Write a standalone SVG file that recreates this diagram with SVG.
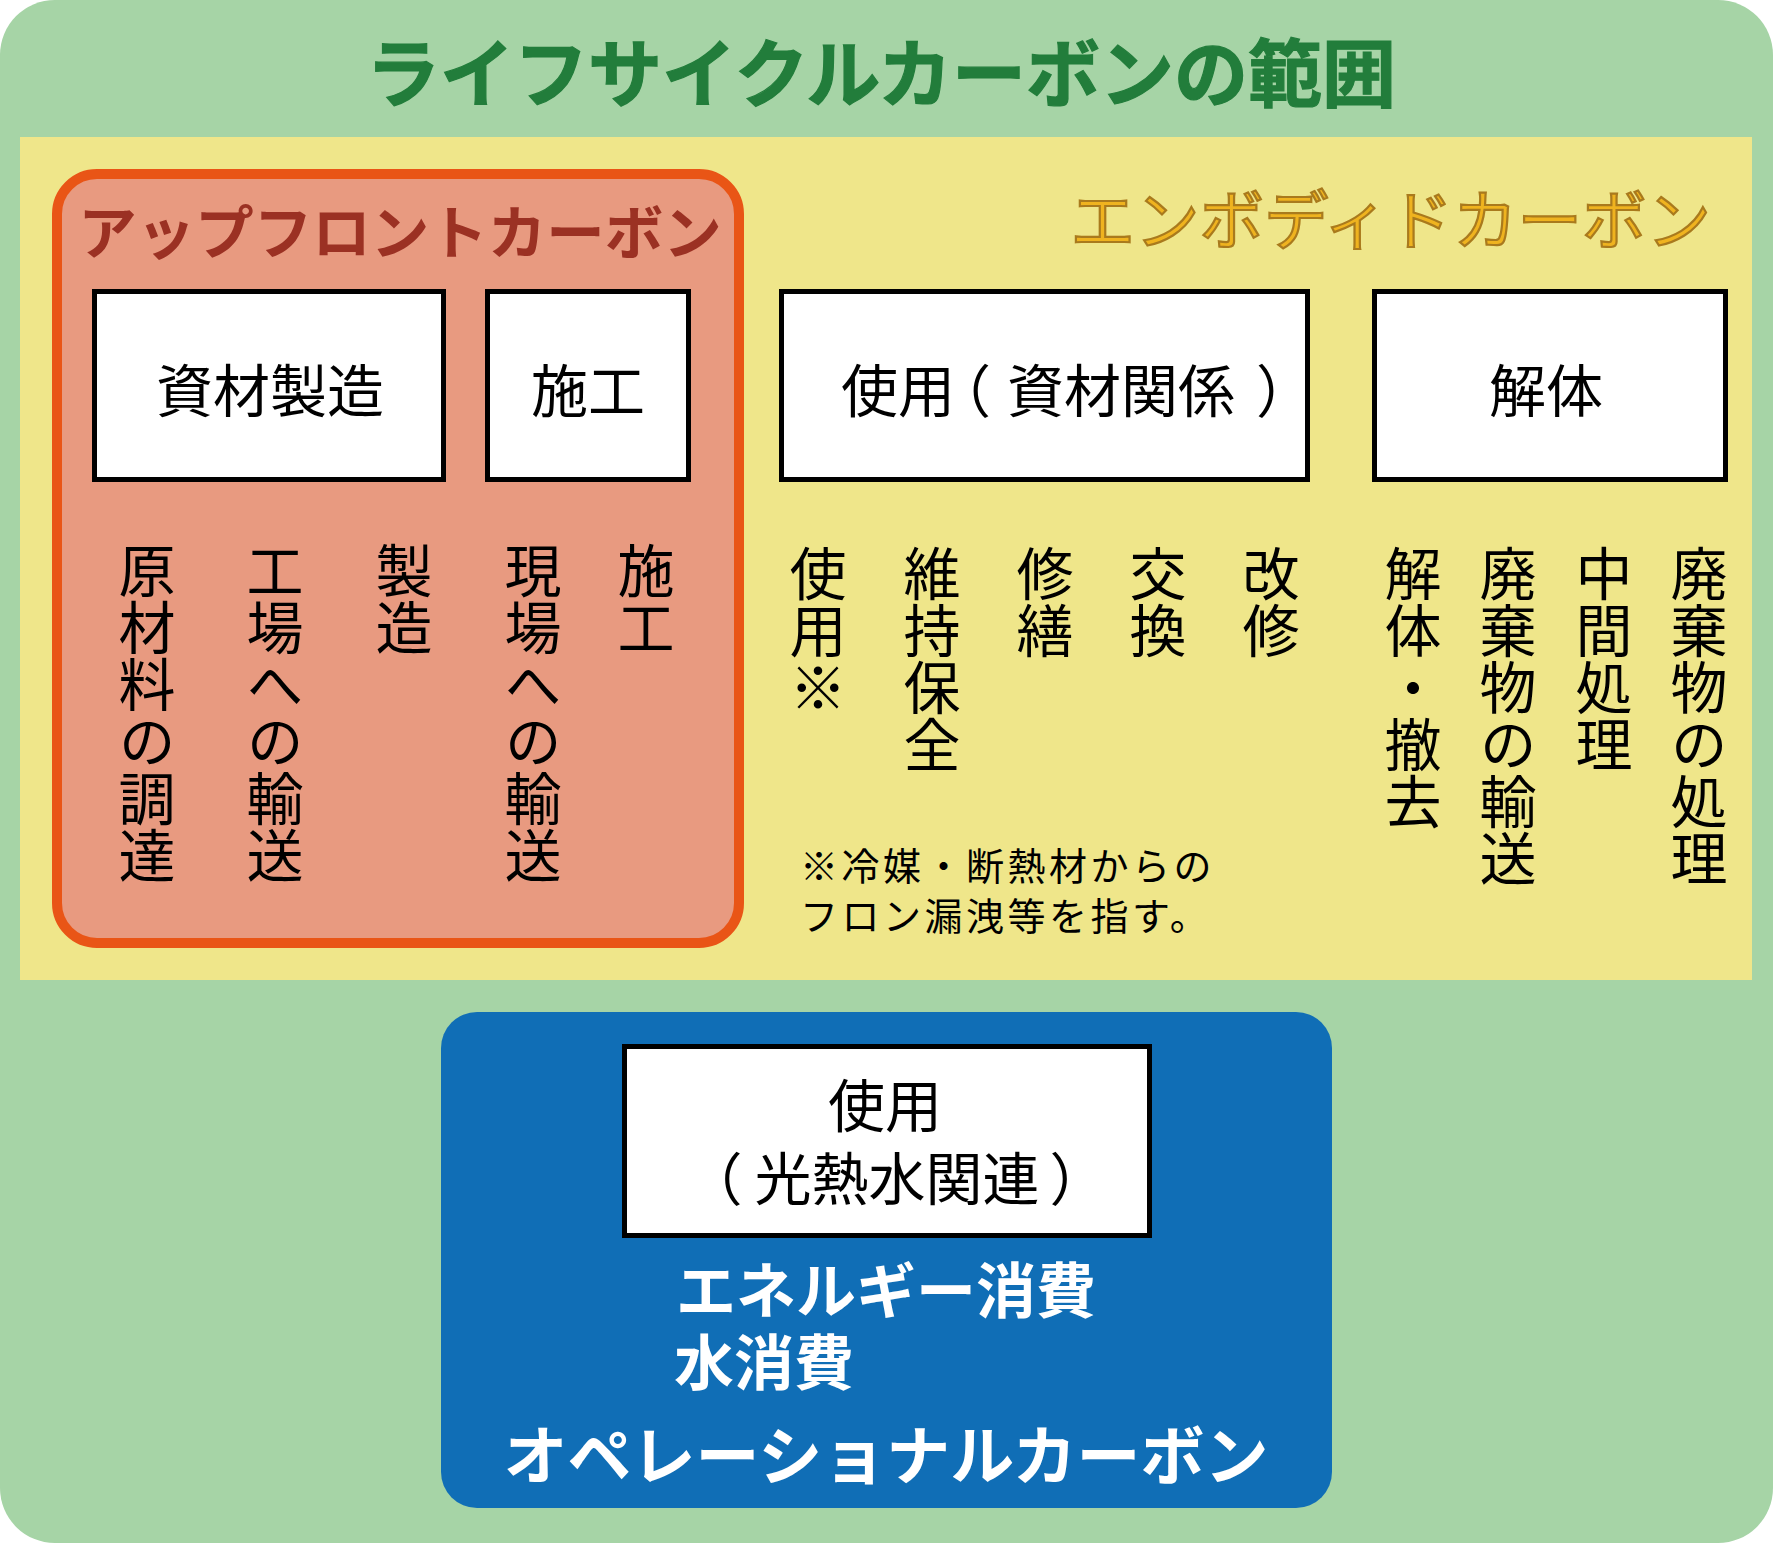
<svg xmlns="http://www.w3.org/2000/svg" width="1773" height="1543" viewBox="0 0 1773 1543">
<style>
text { font-family: "Noto Sans CJK JP", "Noto Sans", sans-serif; }
.box { fill: #ffffff; stroke: #000000; stroke-width: 5; }
.boxtxt { font-size: 57px; fill: #000000; }
.vt { font-size: 57px; fill: #000000; writing-mode: vertical-rl; text-orientation: upright; }
.title { font-size: 74px; font-weight: 700; fill: #227d3b; stroke: #227d3b; stroke-width: 1.2; }
.upfront { font-size: 58.5px; font-weight: 700; fill: #9b3123; }
.embodied { font-size: 64.5px; fill: #efb31f; stroke: #a97a1d; stroke-width: 2.2; }
.note { font-size: 38px; fill: #000000; letter-spacing: 3.5px; }
.white { fill: #ffffff; font-weight: 700; }
</style>
<g id="background">
<rect x="0" y="0" width="1773" height="1543" rx="55" ry="55" fill="#a6d4a6"/>
<text class="title" x="881" y="101" text-anchor="middle">ライフサイクルカーボンの範囲</text>
</g>
<g id="embodied-carbon">
<rect x="20" y="137" width="1732" height="843" fill="#efe68a"/>
<text class="embodied" x="1711" y="244" text-anchor="end">エンボディドカーボン</text>
</g>
<g id="upfront-carbon">
<rect x="57" y="174" width="682" height="769" rx="40" ry="40" fill="#e89a80" stroke="#e95516" stroke-width="10"/>
<text class="upfront" x="400" y="254" text-anchor="middle">アップフロントカーボン</text>
</g>
<g id="node-material">
<rect class="box" x="94.5" y="291.5" width="349" height="188"/>
<text class="boxtxt" x="270" y="412" text-anchor="middle">資材製造</text>
</g>
<g id="node-construction">
<rect class="box" x="487.5" y="291.5" width="201" height="188"/>
<text class="boxtxt" x="588" y="412" text-anchor="middle">施工</text>
</g>
<g id="node-use-material">
<rect class="box" x="781.5" y="291.5" width="526" height="188"/>
<text class="boxtxt" x="841" y="412">使用<tspan dx="-21">（</tspan><tspan dx="16">資材関係</tspan><tspan dx="21">）</tspan></text>
</g>
<g id="node-demolition">
<rect class="box" x="1374.5" y="291.5" width="351" height="188"/>
<text class="boxtxt" x="1546" y="412" text-anchor="middle">解体</text>
</g>
<g id="upfront-items">
<text class="vt" x="147" y="542">原材料の調達</text>
<text class="vt" x="275" y="542">工場への輸送</text>
<text class="vt" x="404" y="542">製造</text>
<text class="vt" x="533" y="542">現場への輸送</text>
<text class="vt" x="646" y="542">施工</text>
</g>
<g id="embodied-items">
<text class="vt" x="818" y="545">使用※</text>
<text class="vt" x="932" y="545">維持保全</text>
<text class="vt" x="1045" y="545">修繕</text>
<text class="vt" x="1158" y="545">交換</text>
<text class="vt" x="1271" y="545">改修</text>
<text class="vt" x="1413" y="545">解体・撤去</text>
<text class="vt" x="1508" y="545">廃棄物の輸送</text>
<text class="vt" x="1604" y="545">中間処理</text>
<text class="vt" x="1699" y="545">廃棄物の処理</text>
</g>
<g id="footnote">
<text class="note" x="800" y="880">※冷媒・断熱材からの</text>
<text class="note" x="800" y="930">フロン漏洩等を指す。</text>
</g>
<g id="operational-carbon">
<rect x="441" y="1012" width="891" height="496" rx="36" ry="36" fill="#106eb6"/>
<text class="white" x="886" y="1479" text-anchor="middle" font-size="64">オペレーショナルカーボン</text>
<text class="white" x="676" y="1313" font-size="60">エネルギー消費</text>
<text class="white" x="674" y="1385" font-size="60">水消費</text>
</g>
<g id="node-use-utilities">
<rect class="box" x="624.5" y="1046.5" width="525" height="189"/>
<text class="boxtxt" x="885" y="1127" text-anchor="middle">使用</text>
<text class="boxtxt" x="685.5" y="1200">（<tspan dx="12">光熱水関連</tspan><tspan dx="10">）</tspan></text>
</g>
<g id="connectors"/>
</svg>
